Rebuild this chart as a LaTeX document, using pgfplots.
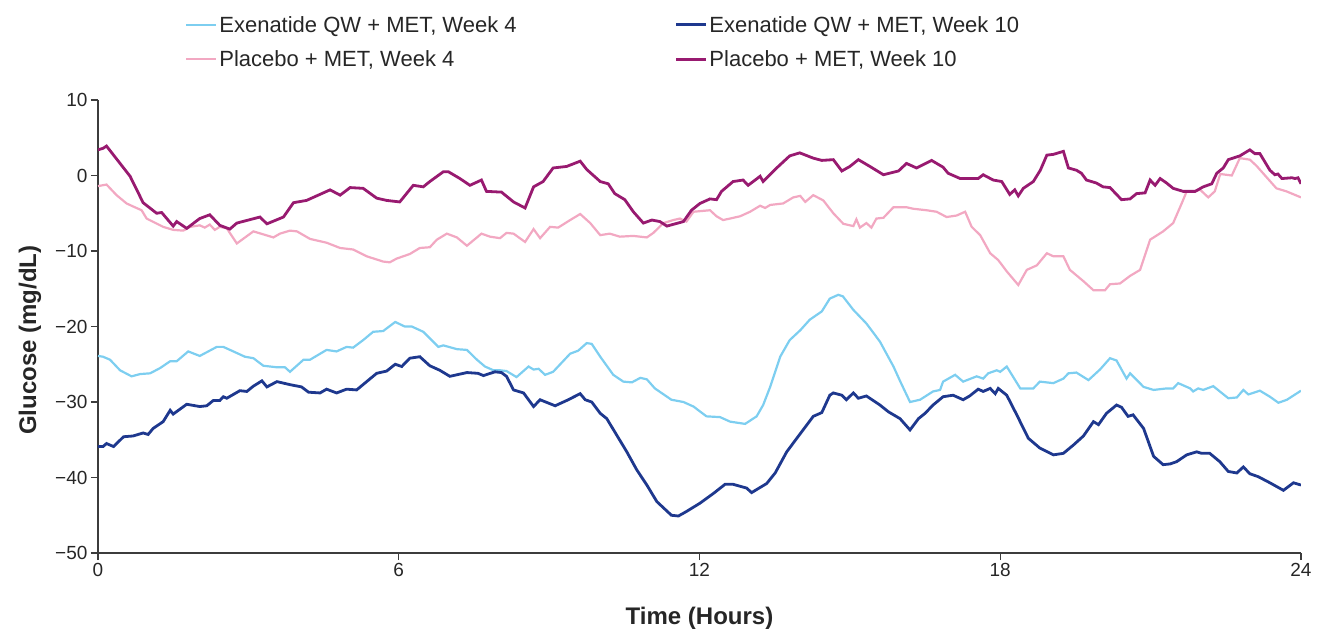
\documentclass[border=0pt]{standalone}
\usepackage{fontspec}
\setmainfont{Liberation Sans}
\usepackage{pgfplots}
\pgfplotsset{compat=1.18}
\definecolor{exfour}{RGB}{125,206,240}
\definecolor{exten}{RGB}{30,56,142}
\definecolor{plfour}{RGB}{242,168,194}
\definecolor{plten}{RGB}{152,26,112}
\definecolor{axgray}{RGB}{60,60,60}
\begin{document}
\begin{tikzpicture}
\useasboundingbox (-98pt,-80pt) rectangle (1229pt,553pt);
\begin{axis}[
  at={(0,0)}, anchor=south west,
  scale only axis, width=1203pt, height=453pt,
  xmin=0, xmax=24, ymin=-50, ymax=10,
  axis lines=left, axis line style={axgray, line width=1.3pt, -},
  xtick={0,6,12,18,24}, ytick={-50,-40,-30,-20,-10,0,10},
  yticklabels={−50,−40,−30,−20,−10,0,10},
  tick align=outside, major tick length=7pt,
  tick style={axgray, line width=1.3pt},
  minor tick num=0,
  tick label style={font=\fontsize{19}{22}\selectfont, text=black!85},
  /pgf/number format/assume math mode=true,
  xlabel={Time (Hours)}, ylabel={Glucose (mg/dL)},
  every axis x label/.style={at={(axis description cs:0.5,-0.1435)},anchor=center,
    font=\fontsize{24}{28}\selectfont\bfseries, text=black!85},
  every axis y label/.style={at={(axis description cs:-0.0565,0.47)},rotate=90,anchor=center,
    font=\fontsize{24}{28}\selectfont\bfseries, text=black!85},
  legend columns=2,
  legend cell align=left,
  legend image code/.code={\draw[#1] (0pt,0pt) -- (30pt,0pt);},
  legend style={at={(axis description cs:0.0723,1.19)}, anchor=north west,
    draw=none, fill=none, inner sep=0pt, row sep=13pt,
    font=\fontsize{22}{26}\selectfont, text=black!85,
    /tikz/every even column/.append style={column sep=156pt}},
]
\addplot[exfour, line width=2.2pt] coordinates {
(0,-23.9) (0.1,-24.0) (0.24,-24.4) (0.44,-25.8) (0.67,-26.6) (0.84,-26.3) (1.04,-26.2) (1.24,-25.5) (1.44,-24.6) (1.57,-24.6) (1.8,-23.3) (2.03,-23.9) (2.37,-22.7) (2.5,-22.7) (2.7,-23.3) (2.93,-24.0) (3.1,-24.2) (3.3,-25.2) (3.57,-25.4) (3.73,-25.4) (3.83,-26.0) (4.1,-24.4) (4.23,-24.4) (4.56,-23.1) (4.76,-23.3) (4.96,-22.7) (5.09,-22.8) (5.29,-21.8) (5.49,-20.7) (5.69,-20.6) (5.93,-19.4) (6.12,-20.0) (6.26,-20.0) (6.49,-20.7) (6.79,-22.7) (6.89,-22.5) (7.16,-23.0) (7.36,-23.1) (7.56,-24.4) (7.72,-25.3) (7.89,-25.8) (8.02,-25.8) (8.15,-25.9) (8.35,-26.7) (8.59,-25.3) (8.69,-25.7) (8.79,-25.6) (8.92,-26.4) (9.08,-26.0) (9.42,-23.6) (9.58,-23.2) (9.75,-22.2) (9.85,-22.3) (10.02,-24.0) (10.28,-26.4) (10.48,-27.3) (10.65,-27.4) (10.82,-26.8) (10.95,-27.0) (11.11,-28.2) (11.44,-29.7) (11.68,-30.0) (11.88,-30.6) (12.14,-31.9) (12.41,-32.0) (12.61,-32.6) (12.91,-32.9) (13.14,-31.9) (13.27,-30.4) (13.41,-28.0) (13.61,-24.0) (13.8,-21.8) (14.01,-20.5) (14.2,-19.1) (14.44,-18.0) (14.6,-16.3) (14.77,-15.8) (14.86,-16.0) (15.07,-17.8) (15.33,-19.6) (15.6,-22.0) (15.87,-25.3) (16.0,-27.2) (16.2,-30.0) (16.4,-29.7) (16.66,-28.6) (16.8,-28.4) (16.86,-27.3) (17.1,-26.4) (17.26,-27.3) (17.53,-26.6) (17.66,-26.9) (17.76,-26.2) (17.93,-25.8) (18.0,-26.0) (18.13,-25.3) (18.4,-28.2) (18.66,-28.2) (18.79,-27.3) (19.06,-27.5) (19.26,-26.9) (19.36,-26.2) (19.52,-26.1) (19.76,-27.1) (19.99,-25.7) (20.19,-24.2) (20.32,-24.5) (20.52,-26.9) (20.59,-26.2) (20.86,-28.0) (21.06,-28.4) (21.32,-28.2) (21.45,-28.2) (21.55,-27.5) (21.79,-28.2) (21.85,-28.6) (21.95,-28.2) (22.05,-28.4) (22.25,-27.9) (22.55,-29.5) (22.72,-29.4) (22.85,-28.4) (22.95,-29.0) (23.18,-28.5) (23.38,-29.3) (23.55,-30.1) (23.72,-29.7) (24.0,-28.5)
};
\addlegendentry{Exenatide QW + MET, Week 4}
\addplot[exten, line width=2.8pt] coordinates {
(0,-35.9) (0.1,-35.9) (0.17,-35.5) (0.31,-35.9) (0.51,-34.6) (0.7,-34.5) (0.9,-34.1) (1.0,-34.3) (1.1,-33.5) (1.3,-32.6) (1.44,-31.1) (1.5,-31.6) (1.77,-30.3) (2.03,-30.6) (2.17,-30.5) (2.3,-29.8) (2.43,-29.8) (2.5,-29.3) (2.57,-29.5) (2.83,-28.5) (2.97,-28.6) (3.1,-27.9) (3.27,-27.2) (3.37,-28.0) (3.57,-27.3) (3.83,-27.7) (4.06,-28.0) (4.2,-28.7) (4.43,-28.8) (4.56,-28.3) (4.76,-28.8) (4.96,-28.3) (5.16,-28.4) (5.36,-27.3) (5.56,-26.2) (5.76,-25.9) (5.93,-25.0) (6.06,-25.3) (6.22,-24.2) (6.42,-24.0) (6.62,-25.2) (6.82,-25.8) (7.02,-26.6) (7.36,-26.1) (7.58,-26.2) (7.69,-26.5) (7.92,-26.0) (8.05,-26.1) (8.15,-26.6) (8.29,-28.4) (8.49,-28.8) (8.69,-30.6) (8.82,-29.7) (9.12,-30.5) (9.35,-29.8) (9.62,-28.9) (9.72,-29.7) (9.85,-30.0) (10.02,-31.5) (10.15,-32.2) (10.35,-34.4) (10.55,-36.6) (10.75,-39.0) (10.95,-41.0) (11.15,-43.2) (11.44,-45.0) (11.58,-45.1) (11.74,-44.5) (12.01,-43.4) (12.28,-42.1) (12.51,-40.9) (12.67,-40.9) (12.94,-41.4) (13.04,-42.0) (13.34,-40.8) (13.51,-39.4) (13.74,-36.6) (14.01,-34.2) (14.27,-31.9) (14.44,-31.4) (14.6,-29.1) (14.67,-28.8) (14.84,-29.1) (14.93,-29.7) (15.07,-28.8) (15.17,-29.5) (15.33,-29.2) (15.6,-30.4) (15.77,-31.3) (16.0,-32.2) (16.2,-33.7) (16.37,-32.2) (16.5,-31.5) (16.66,-30.4) (16.86,-29.3) (17.06,-29.1) (17.26,-29.7) (17.39,-29.2) (17.56,-28.3) (17.66,-28.6) (17.8,-28.2) (17.9,-28.9) (17.96,-28.2) (18.13,-29.1) (18.33,-31.7) (18.56,-34.8) (18.79,-36.1) (19.06,-37.0) (19.26,-36.8) (19.46,-35.7) (19.66,-34.5) (19.86,-32.6) (19.96,-33.0) (20.12,-31.5) (20.32,-30.4) (20.42,-30.7) (20.55,-31.9) (20.65,-31.7) (20.86,-33.5) (21.06,-37.2) (21.25,-38.3) (21.39,-38.2) (21.52,-37.9) (21.72,-37.0) (21.92,-36.6) (22.02,-36.8) (22.18,-36.8) (22.38,-37.9) (22.55,-39.2) (22.72,-39.4) (22.85,-38.6) (22.98,-39.5) (23.15,-39.9) (23.38,-40.7) (23.65,-41.7) (23.85,-40.7) (24.0,-41.0)
};
\addlegendentry{Exenatide QW + MET, Week 10}
\addplot[plfour, line width=2.2pt] coordinates {
(0,-1.4) (0.17,-1.2) (0.37,-2.6) (0.57,-3.7) (0.7,-4.1) (0.87,-4.6) (0.97,-5.7) (1.3,-6.8) (1.5,-7.2) (1.7,-7.3) (1.84,-6.8) (2.03,-6.6) (2.13,-6.9) (2.23,-6.5) (2.33,-7.2) (2.43,-6.8) (2.57,-7.0) (2.77,-9.0) (3.1,-7.4) (3.5,-8.2) (3.63,-7.7) (3.83,-7.3) (3.97,-7.4) (4.23,-8.4) (4.56,-8.9) (4.83,-9.6) (5.09,-9.8) (5.36,-10.7) (5.69,-11.4) (5.82,-11.5) (5.96,-11.0) (6.22,-10.4) (6.42,-9.6) (6.62,-9.5) (6.76,-8.5) (6.96,-7.7) (7.16,-8.2) (7.36,-9.3) (7.56,-8.2) (7.65,-7.7) (7.82,-8.1) (8.02,-8.3) (8.15,-7.6) (8.29,-7.7) (8.52,-8.8) (8.69,-7.1) (8.82,-8.3) (9.02,-6.8) (9.18,-6.9) (9.42,-5.9) (9.62,-5.1) (9.82,-6.3) (10.02,-7.9) (10.21,-7.7) (10.41,-8.1) (10.68,-8.0) (10.95,-8.2) (11.08,-7.6) (11.28,-6.3) (11.48,-5.9) (11.61,-5.7) (11.74,-6.1) (11.88,-4.8) (12.21,-4.6) (12.34,-5.4) (12.47,-5.9) (12.61,-5.7) (12.81,-5.4) (13.01,-4.8) (13.21,-4.0) (13.31,-4.3) (13.41,-3.9) (13.67,-3.7) (13.87,-2.9) (14.01,-2.7) (14.11,-3.5) (14.27,-2.6) (14.47,-3.3) (14.67,-5.0) (14.87,-6.4) (15.07,-6.7) (15.13,-5.8) (15.2,-6.9) (15.33,-6.3) (15.43,-6.9) (15.53,-5.7) (15.67,-5.6) (15.87,-4.2) (16.13,-4.2) (16.26,-4.4) (16.53,-4.6) (16.73,-4.8) (16.93,-5.5) (17.13,-5.3) (17.3,-4.8) (17.43,-6.8) (17.6,-7.9) (17.8,-10.3) (17.96,-11.2) (18.13,-12.7) (18.36,-14.5) (18.53,-12.5) (18.73,-11.9) (18.93,-10.3) (19.06,-10.7) (19.26,-10.7) (19.39,-12.5) (19.66,-14.0) (19.86,-15.2) (20.09,-15.2) (20.19,-14.4) (20.39,-14.3) (20.59,-13.3) (20.79,-12.5) (20.99,-8.5) (21.25,-7.4) (21.45,-6.3) (21.62,-3.7) (21.72,-2.1) (21.85,-2.1) (21.99,-1.9) (22.15,-2.9) (22.28,-2.1) (22.39,0.2) (22.62,0.0) (22.78,2.3) (22.98,2.1) (23.11,1.3) (23.31,-0.2) (23.51,-1.7) (23.71,-2.1) (24.0,-2.9)
};
\addlegendentry{Placebo + MET, Week 4}
\addplot[plten, line width=2.8pt] coordinates {
(0,3.4) (0.1,3.6) (0.17,3.9) (0.64,-0.1) (0.9,-3.6) (1.17,-5.0) (1.27,-4.9) (1.5,-6.7) (1.57,-6.1) (1.77,-7.0) (2.03,-5.7) (2.23,-5.2) (2.43,-6.6) (2.63,-7.1) (2.77,-6.3) (3.23,-5.5) (3.37,-6.4) (3.7,-5.5) (3.9,-3.6) (4.16,-3.3) (4.63,-1.9) (4.83,-2.6) (5.03,-1.6) (5.29,-1.7) (5.56,-3.0) (5.76,-3.3) (6.02,-3.5) (6.29,-1.3) (6.49,-1.5) (6.62,-0.8) (6.89,0.5) (6.99,0.5) (7.22,-0.4) (7.42,-1.3) (7.65,-0.6) (7.75,-2.1) (8.05,-2.2) (8.29,-3.5) (8.52,-4.3) (8.69,-1.5) (8.88,-0.8) (9.08,1.0) (9.35,1.2) (9.62,1.9) (9.75,0.8) (10.02,-0.8) (10.18,-1.1) (10.31,-2.4) (10.51,-3.2) (10.68,-4.8) (10.88,-6.3) (11.05,-5.9) (11.21,-6.1) (11.35,-6.7) (11.68,-6.1) (11.84,-4.6) (12.01,-3.7) (12.21,-3.1) (12.34,-3.2) (12.44,-2.1) (12.67,-0.8) (12.87,-0.6) (12.97,-1.3) (13.21,-0.1) (13.27,-0.8) (13.54,1.0) (13.8,2.6) (14.0,3.0) (14.27,2.3) (14.44,2.0) (14.67,2.1) (14.84,0.6) (15.0,1.2) (15.17,2.1) (15.4,1.2) (15.67,0.1) (15.97,0.6) (16.13,1.6) (16.33,1.0) (16.63,2.0) (16.86,1.1) (16.96,0.3) (17.2,-0.4) (17.56,-0.4) (17.66,0.1) (17.86,-0.6) (18.03,-0.8) (18.19,-2.5) (18.29,-1.9) (18.36,-2.7) (18.46,-1.7) (18.66,-0.8) (18.8,0.7) (18.93,2.7) (19.06,2.8) (19.26,3.2) (19.36,1.0) (19.52,0.7) (19.62,0.3) (19.72,-0.6) (19.92,-1.0) (20.05,-1.5) (20.19,-1.6) (20.42,-3.2) (20.59,-3.1) (20.72,-2.4) (20.89,-2.3) (20.99,-0.6) (21.09,-1.3) (21.19,-0.4) (21.32,-1.0) (21.45,-1.7) (21.65,-2.1) (21.89,-2.1) (22.05,-1.5) (22.22,-1.1) (22.32,0.3) (22.45,1.0) (22.55,2.1) (22.78,2.6) (22.98,3.4) (23.08,2.9) (23.18,2.9) (23.38,0.7) (23.48,0.1) (23.54,0.2) (23.62,-0.4) (23.82,-0.3) (23.88,-0.4) (23.94,-0.3) (24.0,-1.1)
};
\addlegendentry{Placebo + MET, Week 10}
\end{axis}
\end{tikzpicture}
\end{document}
